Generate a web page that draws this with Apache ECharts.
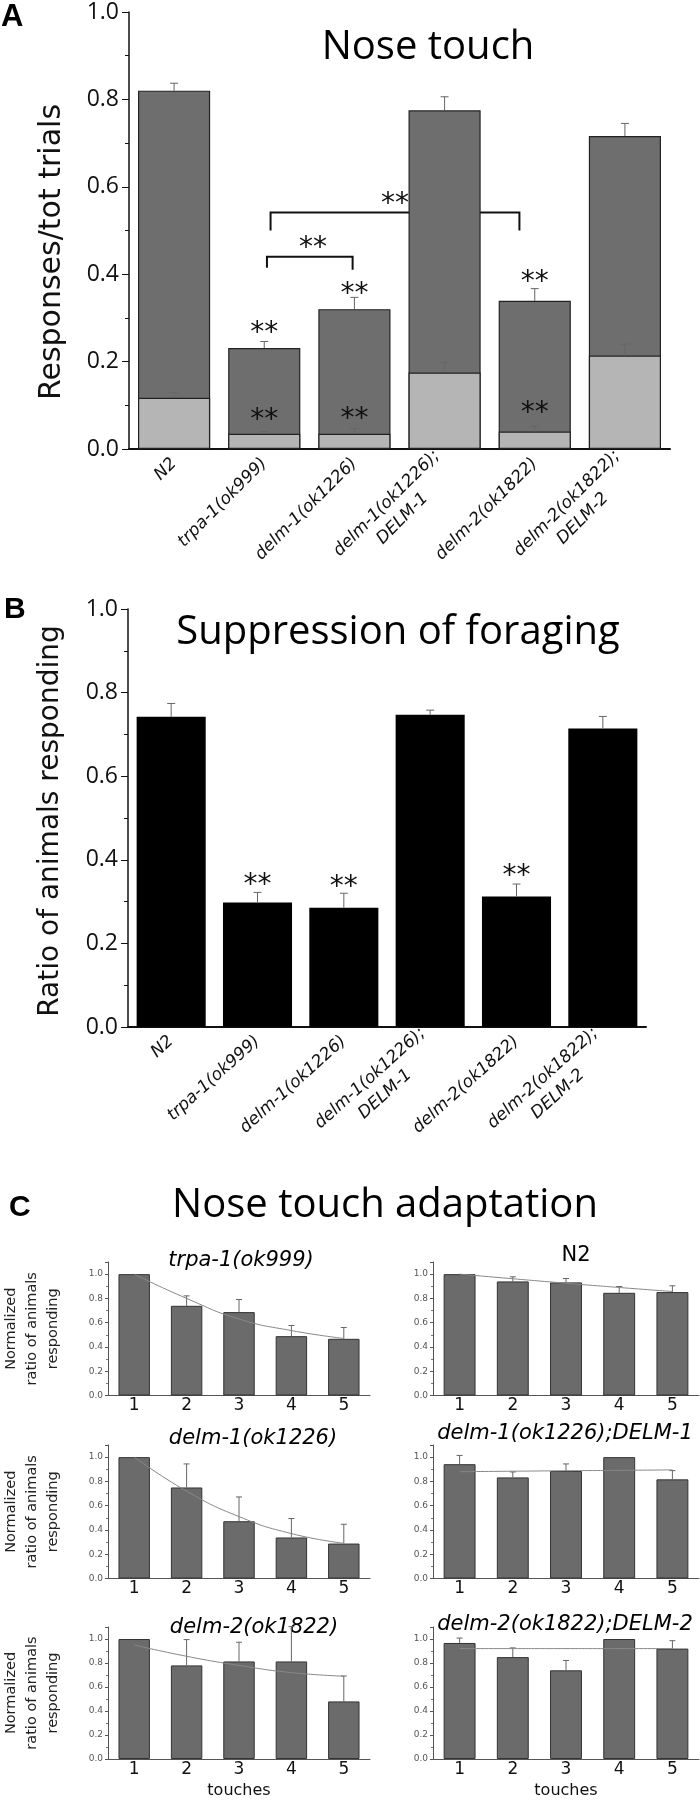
<!DOCTYPE html>
<html>
<head>
<meta charset="utf-8">
<script src="https://cdn.jsdelivr.net/npm/echarts@6/dist/echarts.min.js"></script>
<style>
  html, body { margin: 0; padding: 0; background: #fff; }
  #chart { width: 700px; height: 1800px; }
</style>
</head>
<body>
<div id="chart"></div>
<script>
// ---- data ----
const strains = [
  'N2', 'trpa-1(ok999)', 'delm-1(ok1226)', 'delm-1(ok1226);\nDELM-1',
  'delm-2(ok1822)', 'delm-2(ok1822);\nDELM-2'
];

// A: nose touch (dark = all responses, light = lower part)
const noseTotal = [0.820, 0.231, 0.320, 0.775, 0.339, 0.716];
const noseTotalSem = [0.017, 0.015, 0.027, 0.031, 0.028, 0.029];
const noseLight = [0.117, 0.035, 0.035, 0.175, 0.040, 0.214];
const noseLightSem = [0.012, 0.005, 0.012, 0.023, 0.013, 0.026];
const noseStars = [[1, 0.278], [2, 0.367], [4, 0.394], [1, 0.079], [2, 0.080], [4, 0.095]];
const noseBrackets = [[1.03, 1.98, 0.415, 0.41, 0.44], [1.07, 3.83, 0.50, 0.50, 0.541]];
const noseBracketStars = [[1.54, 0.472], [2.45, 0.572]];

// B: suppression of foraging
const foraging = [0.742, 0.298, 0.285, 0.747, 0.312, 0.714];
const foragingSem = [0.032, 0.024, 0.035, 0.011, 0.030, 0.029];
const foragingStars = [[1, 0.352], [2, 0.348], [4, 0.374]];

// C: nose touch adaptation
const touches = ['1', '2', '3', '4', '5'];
const trpaAdapt = [1.0, 0.739, 0.687, 0.489, 0.467];
const trpaSem = [0, 0.082, 0.104, 0.088, 0.093];
const trpaFit = [1.0, 0.80, 0.63, 0.535, 0.47];
const n2Adapt = [1.0, 0.940, 0.932, 0.846, 0.852];
const n2Sem = [0, 0.038, 0.032, 0.052, 0.052];
const n2Fit = [1.0, 0.962, 0.925, 0.89, 0.857];
const delm1Adapt = [1.0, 0.750, 0.472, 0.338, 0.288];
const delm1Sem = [0, 0.194, 0.200, 0.156, 0.159];
const delm1Fit = [1.0, 0.72, 0.51, 0.37, 0.29];
const delm1RescAdapt = [0.942, 0.833, 0.886, 1.0, 0.817];
const delm1RescSem = [0.072, 0.045, 0.058, 0, 0.072];
const delm1RescFit = [0.88, 0.884, 0.888, 0.891, 0.895];
const delm2Adapt = [1.0, 0.780, 0.813, 0.813, 0.480];
const delm2Sem = [0, 0.215, 0.160, 0.290, 0.212];
const delm2Fit = [0.95, 0.856, 0.78, 0.72, 0.69];
const delm2RescAdapt = [0.967, 0.849, 0.739, 1.0, 0.920];
const delm2RescSem = [0.041, 0.077, 0.082, 0, 0.066];
const delm2RescFit = [0.92, 0.92, 0.92, 0.92, 0.92];

const TITLE_FONT = '"Open Sans", sans-serif';
const SANS = '"DejaVu Sans", sans-serif';
const BOLD = '"Liberation Sans", sans-serif';
const ERR_COLOR = '#666';

const chart = echarts.init(document.getElementById('chart'));

// x position of a (possibly fractional) category index, in pixels
function catX(api, v) {
  const i = Math.floor(v);
  const p0 = api.coord([0, 0])[0];
  const p1 = api.coord([1, 0])[0];
  return api.coord([i, 0])[0] + (v - i) * (p1 - p0);
}

function errorBars(gi, values, sems, cap, z) {
  return {
    type: 'custom', xAxisIndex: gi, yAxisIndex: gi, z: z || 3,
    data: values.map((v, i) => [i, v, sems[i]]),
    encode: { x: 0, y: 1 },
    renderItem: (params, api) => {
      const e = api.value(2);
      if (!(e > 0)) return null;
      const x = api.value(0), y = api.value(1);
      const base = api.coord([x, y]);
      const tip = api.coord([x, y + e]);
      const st = { stroke: ERR_COLOR, lineWidth: 1 };
      return {
        type: 'group', children: [
          { type: 'line', shape: { x1: base[0], y1: base[1], x2: tip[0], y2: tip[1] }, style: st },
          { type: 'line', shape: { x1: tip[0] - cap, y1: tip[1], x2: tip[0] + cap, y2: tip[1] }, style: st }
        ]
      };
    }
  };
}

function stars(gi, points, z) {
  return {
    type: 'custom', xAxisIndex: gi, yAxisIndex: gi, z: z,
    data: points,
    encode: { x: 0, y: 1 },
    renderItem: (params, api) => {
      const v = points[params.dataIndex];
      const x = catX(api, v[0]);
      const y = api.coord([0, v[1]])[1];
      return {
        type: 'text', x: x, y: y + 6,
        style: { text: '**', fontSize: 28, fontFamily: SANS, fill: '#111', align: 'center', verticalAlign: 'middle' }
      };
    }
  };
}

const brackets = {
  type: 'custom', xAxisIndex: 0, yAxisIndex: 0, z: 1,
  data: noseBrackets,
  encode: { x: 0, y: 2 },
  renderItem: (params, api) => {
    const b = noseBrackets[params.dataIndex];
    const xl = catX(api, b[0]), xr = catX(api, b[1]);
    const yl = api.coord([0, b[2]])[1], yr = api.coord([0, b[3]])[1], yt = api.coord([0, b[4]])[1];
    return {
      type: 'polyline',
      shape: { points: [[xl, yl], [xl, yt], [xr, yt], [xr, yr]] },
      style: { stroke: '#111', lineWidth: 2, fill: null }
    };
  }
};

const labelRich = {
  a: { fontSize: 17, fontStyle: 'italic', fontFamily: SANS, color: '#111', lineHeight: 22 },
  b: { fontSize: 17, fontStyle: 'italic', fontFamily: SANS, color: '#111', lineHeight: 22, padding: [0, 38, 0, 0] }
};
function strainLabel(v) {
  const parts = v.split('\n');
  if (parts.length === 1) return '{a|' + v + '}';
  return '{a|' + parts[0] + '}\n{b|' + parts[1] + '}';
}

// ---- grids ----
const cTops = [1262, 1445, 1627];
const cLefts = [106, 433];
const cWidths = [264, 266];
const grids = [
  { left: 129, top: 12, width: 541, height: 437 },
  { left: 128, top: 609, width: 518, height: 418 }
];
for (let r = 0; r < 3; r++) {
  for (let c = 0; c < 2; c++) {
    grids.push({ left: cLefts[c], top: cTops[r], width: cWidths[c], height: 133.5 });
  }
}

const bigXAxis = (gi, rotate) => ({
  type: 'category', gridIndex: gi, data: strains,
  axisLine: { lineStyle: { color: '#111', width: 2 } },
  axisTick: { show: false },
  axisLabel: { rotate: rotate, margin: 12, interval: 0, formatter: strainLabel, rich: labelRich }
});
const bigYAxis = (gi) => ({
  type: 'value', gridIndex: gi, min: 0, max: 1, interval: 0.2,
  axisLine: { show: true, lineStyle: { color: '#111', width: 1.5 } },
  axisTick: { show: true, length: 7, lineStyle: { color: '#111' } },
  minorTick: { show: true, splitNumber: 2, length: 4, lineStyle: { color: '#111' } },
  splitLine: { show: false },
  axisLabel: { fontSize: 23, fontFamily: TITLE_FONT, color: '#111', margin: 10, formatter: v => v.toFixed(1) }
});

const xAxes = [bigXAxis(0, 45), bigXAxis(1, 42)];
const yAxes = [bigYAxis(0), bigYAxis(1)];

const panels = [
  { title: 'trpa-1(ok999)', italic: true, v: trpaAdapt, s: trpaSem, f: trpaFit, cx: 241, cy: 1261 },
  { title: 'N2', italic: false, v: n2Adapt, s: n2Sem, f: n2Fit, cx: 576, cy: 1256 },
  { title: 'delm-1(ok1226)', italic: true, v: delm1Adapt, s: delm1Sem, f: delm1Fit, cx: 253, cy: 1439 },
  { title: 'delm-1(ok1226);DELM-1', italic: true, v: delm1RescAdapt, s: delm1RescSem, f: delm1RescFit, cx: 565, cy: 1434 },
  { title: 'delm-2(ok1822)', italic: true, v: delm2Adapt, s: delm2Sem, f: delm2Fit, cx: 254, cy: 1628 },
  { title: 'delm-2(ok1822);DELM-2', italic: true, v: delm2RescAdapt, s: delm2RescSem, f: delm2RescFit, cx: 565, cy: 1625 }
];

const series = [
  { type: 'bar', xAxisIndex: 0, yAxisIndex: 0, data: noseTotal, barWidth: '80%', barGap: '-100%', z: 2,
    itemStyle: { color: '#6e6e6e', borderColor: '#222', borderWidth: 1.2 } },
  { type: 'bar', xAxisIndex: 0, yAxisIndex: 0, data: noseLight, barWidth: '80%', barGap: '-100%', z: 2,
    itemStyle: { color: '#b5b5b5', borderColor: '#222', borderWidth: 1.2 } },
  brackets,
  stars(0, noseBracketStars, 1),
  errorBars(0, noseTotal, noseTotalSem, 4),
  errorBars(0, noseLight, noseLightSem, 4),
  stars(0, noseStars, 4),
  { type: 'bar', xAxisIndex: 1, yAxisIndex: 1, data: foraging, barWidth: '80%', z: 2,
    itemStyle: { color: '#000' } },
  errorBars(1, foraging, foragingSem, 4),
  stars(1, foragingStars, 4)
];

const graphics = [
  { type: 'text', x: 1, y: 17, style: { text: 'A', fontSize: 31, fontWeight: 'bold', fontFamily: BOLD, fill: '#000', verticalAlign: 'middle' } },
  { type: 'text', x: 428, y: 48, style: { text: 'Nose touch', fontSize: 40, fontFamily: TITLE_FONT, fill: '#000', align: 'center', verticalAlign: 'middle' } },
  { type: 'text', x: 52, y: 252, rotation: Math.PI / 2,
    style: { text: 'Responses/tot trials', fontSize: 30, fontFamily: SANS, fill: '#111', align: 'center', verticalAlign: 'middle' } },
  { type: 'text', x: 4, y: 610, style: { text: 'B', fontSize: 30, fontWeight: 'bold', fontFamily: BOLD, fill: '#000', verticalAlign: 'middle' } },
  { type: 'text', x: 398, y: 633, style: { text: 'Suppression of foraging', fontSize: 40, fontFamily: TITLE_FONT, fill: '#000', align: 'center', verticalAlign: 'middle' } },
  { type: 'text', x: 51, y: 821, rotation: Math.PI / 2,
    style: { text: 'Ratio of animals responding', fontSize: 28, fontFamily: SANS, fill: '#111', align: 'center', verticalAlign: 'middle' } },
  { type: 'text', x: 9, y: 1208, style: { text: 'C', fontSize: 30, fontWeight: 'bold', fontFamily: BOLD, fill: '#000', verticalAlign: 'middle' } },
  { type: 'text', x: 385, y: 1206, style: { text: 'Nose touch adaptation', fontSize: 40, fontFamily: TITLE_FONT, fill: '#000', align: 'center', verticalAlign: 'middle' } }
];

panels.forEach((p, k) => {
  const gi = k + 2;
  const left = k % 2 === 0;
  const bottomRow = k >= 4;
  xAxes.push({
    type: 'category', gridIndex: gi, data: touches,
    name: bottomRow ? 'touches' : '', nameLocation: 'middle', nameGap: 24,
    nameTextStyle: { fontSize: 16, fontFamily: SANS, color: '#111' },
    axisLine: { lineStyle: { color: '#555', width: 1 } },
    axisTick: { show: false },
    axisLabel: { fontSize: 17, fontFamily: SANS, color: '#111', margin: 2 }
  });
  yAxes.push({
    type: 'value', gridIndex: gi, min: 0, max: 1.1, interval: 0.2,
    name: left ? 'Normalized\nratio of animals\nresponding' : '',
    nameLocation: 'middle', nameGap: 44,
    nameTextStyle: { fontSize: 14.5, lineHeight: 21, fontFamily: SANS, color: '#222' },
    axisLine: { show: true, lineStyle: { color: '#555', width: 1 } },
    axisTick: { show: true, length: 3, lineStyle: { color: '#555' } },
    minorTick: { show: true, splitNumber: 2, length: 2, lineStyle: { color: '#777' } },
    splitLine: { show: false },
    axisLabel: { fontSize: 9, fontFamily: SANS, color: '#555', margin: 5, showMaxLabel: false, formatter: v => v.toFixed(1) }
  });
  series.push({
    type: 'bar', xAxisIndex: gi, yAxisIndex: gi, data: p.v, barWidth: '60%', z: 2,
    itemStyle: { color: '#6b6b6b', borderColor: '#333', borderWidth: 1 }
  });
  series.push(errorBars(gi, p.v, p.s, 3));
  series.push({
    type: 'line', xAxisIndex: gi, yAxisIndex: gi, data: p.f, smooth: true, symbol: 'none', z: 4,
    lineStyle: { color: '#888', width: 1 }
  });
  graphics.push({
    type: 'text', x: p.cx, y: p.cy,
    style: { text: p.title, fontSize: 21, fontStyle: p.italic ? 'italic' : 'normal', fontFamily: SANS, fill: '#000', align: 'center', verticalAlign: 'middle' }
  });
});

chart.setOption({
  animation: false,
  backgroundColor: '#fff',
  grid: grids,
  xAxis: xAxes,
  yAxis: yAxes,
  series: series,
  graphic: graphics
});
</script>
</body>
</html>
